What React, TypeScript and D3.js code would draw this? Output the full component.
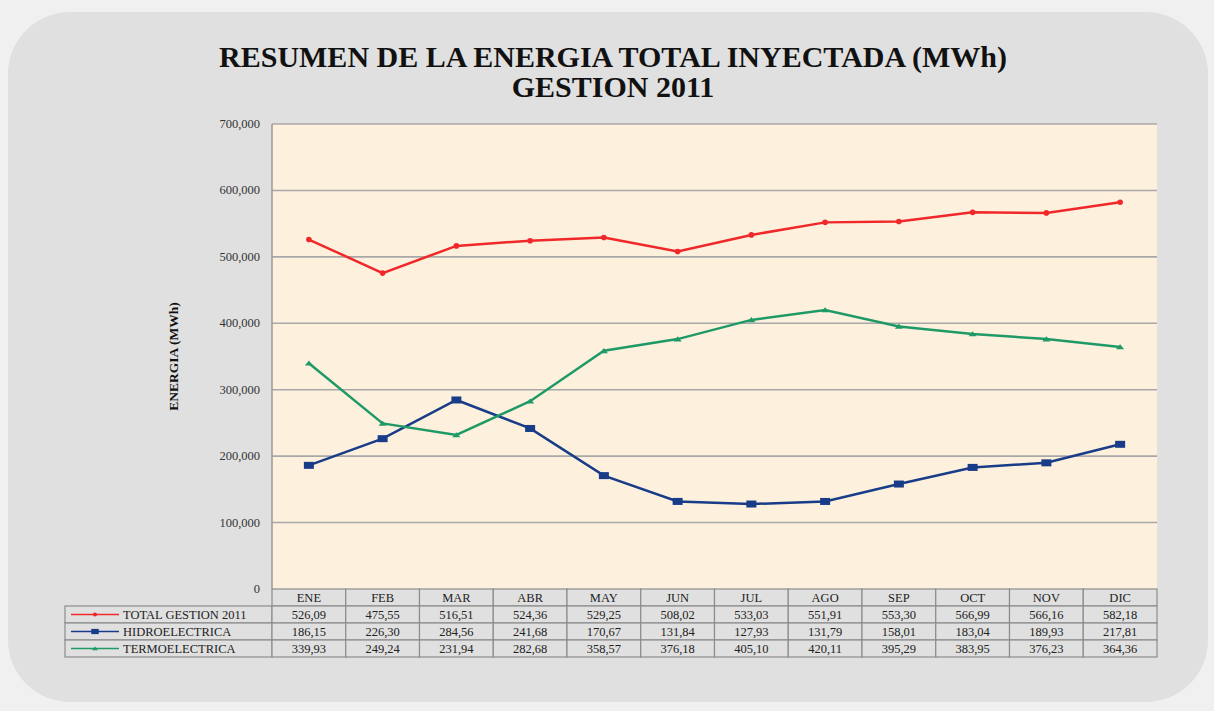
import { useEffect, useRef } from 'react'
import * as d3 from 'd3'

// --- DATA ---
const months = ['ENE', 'FEB', 'MAR', 'ABR', 'MAY', 'JUN', 'JUL', 'AGO', 'SEP', 'OCT', 'NOV', 'DIC']
const totalGestion = [526.09, 475.55, 516.51, 524.36, 529.25, 508.02, 533.03, 551.91, 553.3, 566.99, 566.16, 582.18]
const hidroelectrica = [186.15, 226.3, 284.56, 241.68, 170.67, 131.84, 127.93, 131.79, 158.01, 183.04, 189.93, 217.81]
const termoelectrica = [339.93, 249.24, 231.94, 282.68, 358.57, 376.18, 405.1, 420.11, 395.29, 383.95, 376.23, 364.36]
const yTicks = [0, 100, 200, 300, 400, 500, 600, 700]

type Series = { name: string; values: number[]; color: string; marker: 'dot' | 'square' | 'triangle' }

const series: Series[] = [
  { name: 'TOTAL GESTION 2011', values: totalGestion, color: '#f0282a', marker: 'dot' },
  { name: 'HIDROELECTRICA', values: hidroelectrica, color: '#183c88', marker: 'square' },
  { name: 'TERMOELECTRICA', values: termoelectrica, color: '#1f9a66', marker: 'triangle' },
]

const W = 1214
const H = 711
const FONT = '"Liberation Serif", "DejaVu Serif", serif'

export default function App() {
  const svgRef = useRef<SVGSVGElement | null>(null)

  useEffect(() => {
    if (!svgRef.current) return
    const svg = d3.select(svgRef.current)
    svg.selectAll('*').remove()

    const left = 272
    const right = 1157
    const top = 124
    const bottom = 589
    const rowH = 17
    const tableLeft = 65

    // --- BACKGROUND ---
    svg.append('rect').attr('width', W).attr('height', H).attr('fill', '#f0f0f0')
    svg
      .append('rect')
      .attr('x', 8)
      .attr('y', 12)
      .attr('width', 1200)
      .attr('height', 690)
      .attr('rx', 62)
      .attr('fill', '#e0e0e0')

    // --- TITLE ---
    const titleLines = ['RESUMEN DE LA ENERGIA TOTAL INYECTADA (MWh)', 'GESTION 2011']
    titleLines.forEach((t, i) => {
      svg
        .append('text')
        .attr('x', 613)
        .attr('y', 67 + i * 30)
        .attr('text-anchor', 'middle')
        .style('font-family', FONT)
        .style('font-weight', 'bold')
        .style('font-size', '30px')
        .attr('fill', '#111')
        .text(t)
    })

    // --- SCALES ---
    const x = d3.scaleBand<string>().domain(months).range([left, right])
    const y = d3.scaleLinear().domain([0, 700]).range([bottom, top])
    const cx = (m: string) => (x(m) ?? 0) + x.bandwidth() / 2

    // --- PLOT AREA ---
    svg
      .append('rect')
      .attr('x', left)
      .attr('y', top)
      .attr('width', right - left)
      .attr('height', bottom - top)
      .attr('fill', '#fdf1de')

    svg
      .append('g')
      .selectAll('line')
      .data(yTicks.filter((t) => t > 0))
      .enter()
      .append('line')
      .attr('x1', left)
      .attr('x2', right)
      .attr('y1', (d) => y(d))
      .attr('y2', (d) => y(d))
      .attr('stroke', (d) => (d === 700 ? '#8a8a8a' : '#a8a8a8'))
      .attr('stroke-width', (d) => (d === 700 ? 1 : 1.6))

    svg
      .append('line')
      .attr('x1', left)
      .attr('x2', left)
      .attr('y1', top)
      .attr('y2', bottom)
      .attr('stroke', '#9a9a9a')
      .attr('stroke-width', 1.5)

    // --- Y AXIS LABELS ---
    svg
      .append('g')
      .selectAll('text')
      .data(yTicks)
      .enter()
      .append('text')
      .attr('x', left - 12)
      .attr('y', (d) => y(d) + 4)
      .attr('text-anchor', 'end')
      .style('font-family', FONT)
      .style('font-size', '12.5px')
      .attr('fill', '#333')
      .text((d) => d3.format(',')(d * 1000))

    svg
      .append('text')
      .attr('transform', `translate(178, ${(top + bottom) / 2}) rotate(-90)`)
      .attr('text-anchor', 'middle')
      .style('font-family', FONT)
      .style('font-weight', 'bold')
      .style('font-size', '13.5px')
      .attr('fill', '#111')
      .text('ENERGIA (MWh)')

    // --- LINES ---
    const line = d3
      .line<number>()
      .x((_, i) => cx(months[i]))
      .y((d) => y(d))

    const drawMarker = (g: d3.Selection<SVGGElement, unknown, null, undefined>, s: Series, px: number, py: number, scale = 1) => {
      if (s.marker === 'dot') {
        g.append('circle').attr('cx', px).attr('cy', py).attr('r', 2.8 * scale).attr('fill', s.color)
      } else if (s.marker === 'square') {
        g.append('rect')
          .attr('x', px - 5 * scale)
          .attr('y', py - 3.5 * scale)
          .attr('width', 10 * scale)
          .attr('height', 7 * scale)
          .attr('fill', s.color)
      } else {
        const t = 4 * scale
        g.append('path')
          .attr('d', `M${px - t},${py + t * 0.6}L${px + t},${py + t * 0.6}L${px},${py - t * 0.7}Z`)
          .attr('fill', s.color)
      }
    }

    series.forEach((s) => {
      const g = svg.append('g')
      g.append('path')
        .datum(s.values)
        .attr('d', line)
        .attr('fill', 'none')
        .attr('stroke', s.color)
        .attr('stroke-width', 2.5)
      s.values.forEach((v, i) => drawMarker(g, s, cx(months[i]), y(v)))
    })

    // --- DATA TABLE ---
    const table = svg.append('g')
    const cellStroke = '#8c8c8c'
    const cellFont = '12.5px'
    // header row (months)
    months.forEach((m) => {
      table
        .append('rect')
        .attr('x', x(m) ?? 0)
        .attr('y', bottom)
        .attr('width', x.bandwidth())
        .attr('height', rowH)
        .attr('fill', '#e0e0e0')
        .attr('stroke', cellStroke)
        .attr('stroke-width', 1.2)
      table
        .append('text')
        .attr('x', cx(m))
        .attr('y', bottom + 13)
        .attr('text-anchor', 'middle')
        .style('font-family', FONT)
        .style('font-size', cellFont)
        .attr('fill', '#222')
        .text(m)
    })

    series.forEach((s, r) => {
      const ry = bottom + rowH * (r + 1)
      table
        .append('rect')
        .attr('x', tableLeft)
        .attr('y', ry)
        .attr('width', left - tableLeft)
        .attr('height', rowH)
        .attr('fill', '#e0e0e0')
        .attr('stroke', cellStroke)
        .attr('stroke-width', 1.2)
      table
        .append('line')
        .attr('x1', tableLeft + 6)
        .attr('x2', tableLeft + 54)
        .attr('y1', ry + rowH / 2)
        .attr('y2', ry + rowH / 2)
        .attr('stroke', s.color)
        .attr('stroke-width', 1.5)
      drawMarker(table, s, tableLeft + 30, ry + rowH / 2, 0.75)
      table
        .append('text')
        .attr('x', tableLeft + 58)
        .attr('y', ry + 13)
        .style('font-family', FONT)
        .style('font-size', cellFont)
        .attr('fill', '#222')
        .text(s.name)

      s.values.forEach((v, i) => {
        const m = months[i]
        table
          .append('rect')
          .attr('x', x(m) ?? 0)
          .attr('y', ry)
          .attr('width', x.bandwidth())
          .attr('height', rowH)
          .attr('fill', '#e0e0e0')
          .attr('stroke', cellStroke)
          .attr('stroke-width', 1.2)
        table
          .append('text')
          .attr('x', cx(m))
          .attr('y', ry + 13)
          .attr('text-anchor', 'middle')
          .style('font-family', FONT)
          .style('font-size', cellFont)
          .attr('fill', '#222')
          .text(v.toFixed(2).replace('.', ','))
      })
    })
  }, [])

  return (
    <div style={{ position: 'absolute', left: 0, top: 0 }}>
      <svg ref={svgRef} width={W} height={H} style={{ display: 'block' }} />
    </div>
  )
}
